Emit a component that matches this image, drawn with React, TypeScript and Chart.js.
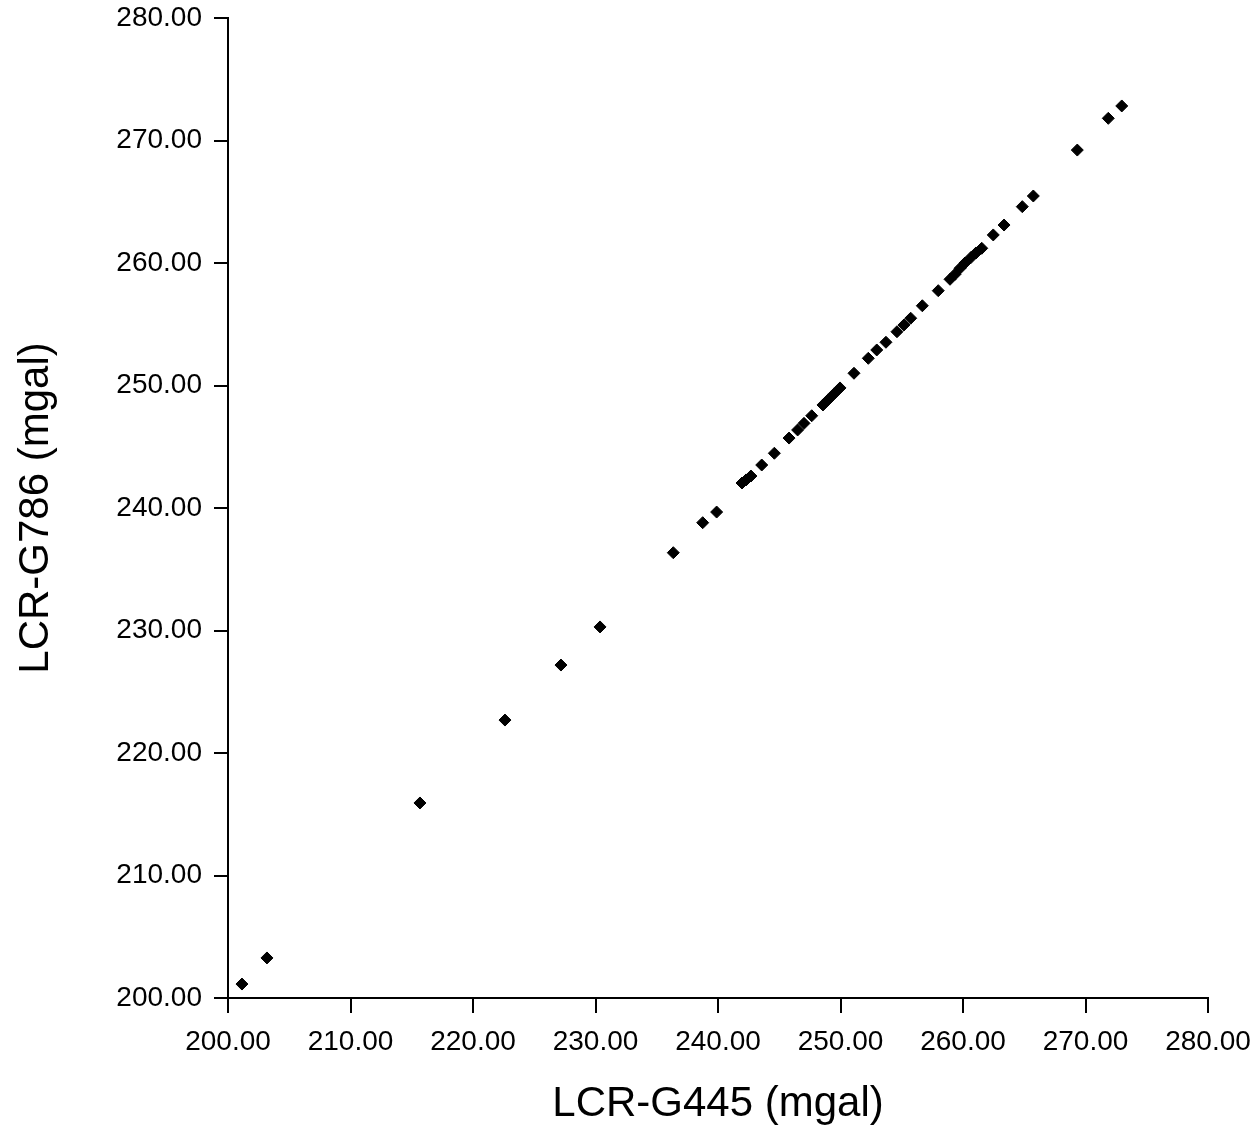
import React, { useEffect, useRef } from "react";
import { Chart, registerables } from "chart.js";

Chart.register(...registerables);

const xValues = [
  201.14, 203.18, 215.67, 222.61, 227.18, 230.37, 236.35, 238.75, 239.89, 241.96,
  242.29, 242.69, 243.57, 244.6, 245.8, 246.5, 247.02, 247.65, 248.57, 248.98,
  249.47, 249.96, 251.1, 252.27, 252.96, 253.71, 254.61, 255.18, 255.73, 256.68,
  257.98, 258.94, 259.35, 259.76, 260.16, 260.65, 261.06, 261.53, 262.47, 263.35,
  264.84, 265.74, 269.33, 271.86, 272.96,
];
const yValues = [
  201.14, 203.27, 215.92, 222.69, 227.18, 230.29, 236.35, 238.8, 239.67, 242.04,
  242.29, 242.61, 243.51, 244.47, 245.71, 246.37, 246.91, 247.53, 248.41, 248.82,
  249.31, 249.8, 251.0, 252.22, 252.9, 253.53, 254.39, 254.94, 255.49, 256.51,
  257.74, 258.67, 259.08, 259.57, 260.0, 260.45, 260.82, 261.2, 262.29, 263.1,
  264.6, 265.47, 269.22, 271.81, 272.82,
];
const axisMin = 200;
const axisMax = 280;
const axisStep = 10;
const xTitle = "LCR-G445 (mgal)";
const yTitle = "LCR-G786 (mgal)";

export default function App() {
  const ref = useRef<HTMLCanvasElement | null>(null);
  useEffect(() => {
    document.body.style.margin = "0";
    const canvas = ref.current;
    if (!canvas) return;
    const data = xValues.map((x, i) => ({ x, y: yValues[i] }));
    const fontFamily = "'Liberation Sans', Arial, sans-serif";
    const zeroPad = (s: any) => {
      s.paddingTop = 0;
      s.paddingBottom = 0;
      s.paddingLeft = 0;
      s.paddingRight = 0;
    };
    const chart = new Chart(canvas, {
      type: "scatter",
      data: {
        datasets: [
          {
            data,
            pointStyle: "rectRot",
            pointRadius: 6,
            backgroundColor: "#000",
            borderColor: "#000",
            borderWidth: 1,
          },
        ],
      },
      options: {
        animation: false,
        responsive: false,
        devicePixelRatio: 1,
        layout: { padding: { top: 18, right: 49, left: 0, bottom: 0 } },
        plugins: { legend: { display: false }, tooltip: { enabled: false } },
        scales: {
          x: {
            type: "linear",
            min: axisMin,
            max: axisMax,
            ticks: {
              stepSize: axisStep,
              color: "#000",
              font: { family: fontFamily, size: 28 },
              padding: 12,
              maxRotation: 0,
              callback: (v: any) => Number(v).toFixed(2),
            },
            grid: {
              drawOnChartArea: false,
              drawTicks: true,
              tickLength: 15,
              color: "#000",
              lineWidth: 2,
            },
            border: { display: true, color: "#000", width: 2 },
            title: {
              display: true,
              text: xTitle,
              color: "#000",
              font: { family: fontFamily, size: 42 },
              padding: { top: 0, bottom: 8 },
            },
            afterFit: (s: any) => {
              s.height = 140;
              zeroPad(s);
            },
          },
          y: {
            type: "linear",
            min: axisMin,
            max: axisMax,
            ticks: {
              stepSize: axisStep,
              color: "#000",
              font: { family: fontFamily, size: 28 },
              padding: 12,
              callback: (v: any) => Number(v).toFixed(2),
            },
            grid: {
              drawOnChartArea: false,
              drawTicks: true,
              tickLength: 14,
              color: "#000",
              lineWidth: 2,
            },
            border: { display: true, color: "#000", width: 2 },
            title: {
              display: true,
              text: yTitle,
              color: "#000",
              font: { family: fontFamily, size: 42 },
              padding: { top: 11, bottom: 0 },
            },
            afterFit: (s: any) => {
              s.width = 228;
              zeroPad(s);
            },
          },
        },
      },
    });
    return () => chart.destroy();
  }, []);
  return (
    <div style={{ width: 1257, height: 1138 }}>
      <canvas ref={ref} width={1257} height={1138} style={{ display: "block" }} />
    </div>
  );
}
